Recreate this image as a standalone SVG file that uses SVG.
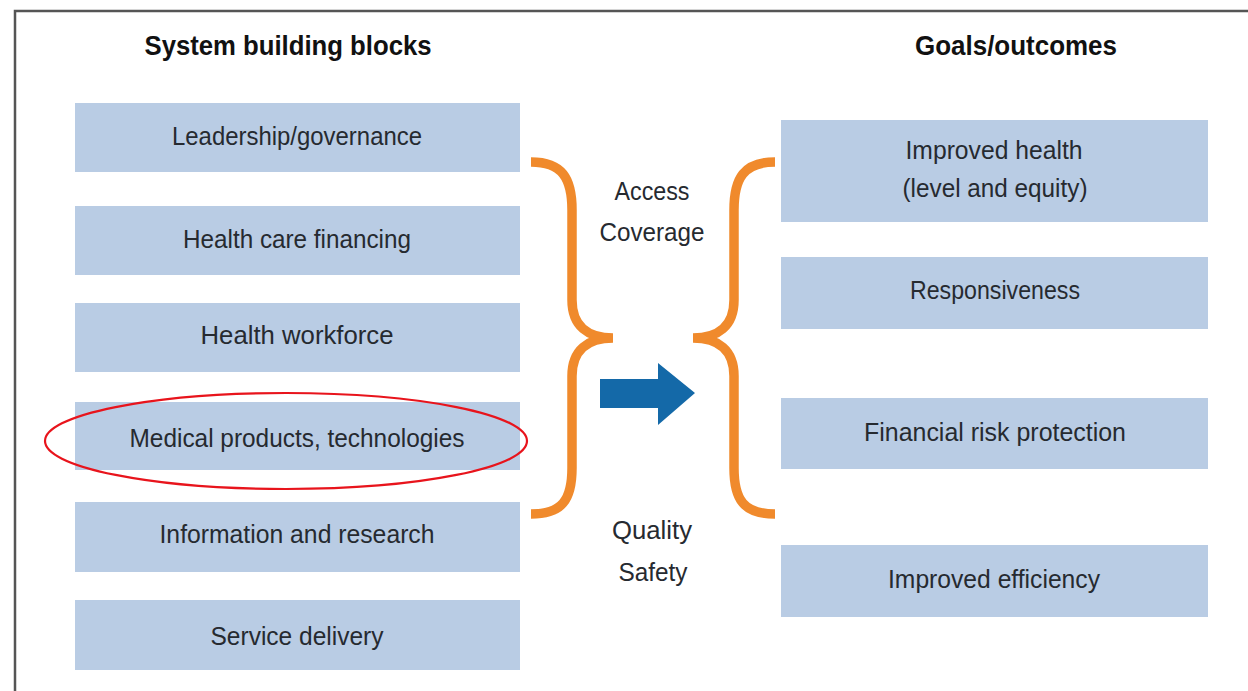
<svg xmlns="http://www.w3.org/2000/svg" width="1248" height="691" viewBox="0 0 1248 691">
  <style>
    .box { fill: #b9cce4; }
    .lbl { font-family: "Liberation Sans", Arial, sans-serif; font-size: 26px; fill: #262a30; text-anchor: middle; }
    .mid { font-family: "Liberation Sans", Arial, sans-serif; font-size: 26px; fill: #262a30; text-anchor: middle; }
    .title { font-family: "Liberation Sans", Arial, sans-serif; font-size: 27px; font-weight: bold; fill: #111; text-anchor: middle; }
    .brace { fill: none; stroke: #f08a2c; stroke-width: 9.5; stroke-linecap: butt; }
  </style>
  <rect x="0" y="0" width="1248" height="691" fill="#ffffff"/>
  <!-- frame -->
  <path d="M15,691 L15,11 L1248,11" fill="none" stroke="#555" stroke-width="2.5"/>

  <!-- titles -->
  <text class="title" x="288" y="55" textLength="287" lengthAdjust="spacingAndGlyphs">System building blocks</text>
  <text class="title" x="1016" y="55" textLength="202" lengthAdjust="spacingAndGlyphs">Goals/outcomes</text>

  <!-- left column nodes -->
  <g id="leadership">
    <rect class="box" x="75" y="103" width="445" height="69"/>
    <text class="lbl" x="297" y="145" textLength="250" lengthAdjust="spacingAndGlyphs">Leadership/governance</text>
  </g>
  <g id="financing">
    <rect class="box" x="75" y="206" width="445" height="69"/>
    <text class="lbl" x="297" y="248" textLength="228" lengthAdjust="spacingAndGlyphs">Health care financing</text>
  </g>
  <g id="workforce">
    <rect class="box" x="75" y="303" width="445" height="69"/>
    <text class="lbl" x="297" y="344" textLength="193" lengthAdjust="spacingAndGlyphs">Health workforce</text>
  </g>
  <g id="medical">
    <rect class="box" x="75" y="402" width="445" height="68"/>
    <text class="lbl" x="297" y="447" textLength="335" lengthAdjust="spacingAndGlyphs">Medical products, technologies</text>
    <ellipse cx="286" cy="441" rx="241" ry="48" fill="none" stroke="#e8141c" stroke-width="2.2"/>
  </g>
  <g id="information">
    <rect class="box" x="75" y="502" width="445" height="70"/>
    <text class="lbl" x="297" y="543" textLength="275" lengthAdjust="spacingAndGlyphs">Information and research</text>
  </g>
  <g id="service">
    <rect class="box" x="75" y="600" width="445" height="70"/>
    <text class="lbl" x="297" y="645" textLength="173" lengthAdjust="spacingAndGlyphs">Service delivery</text>
  </g>

  <!-- right column nodes -->
  <g id="health">
    <rect class="box" x="781" y="120" width="427" height="102"/>
    <text class="lbl" x="994" y="159" textLength="177" lengthAdjust="spacingAndGlyphs">Improved health</text>
    <text class="lbl" x="995" y="197" textLength="185" lengthAdjust="spacingAndGlyphs">(level and equity)</text>
  </g>
  <g id="responsiveness">
    <rect class="box" x="781" y="257" width="427" height="72"/>
    <text class="lbl" x="995" y="299" textLength="170" lengthAdjust="spacingAndGlyphs">Responsiveness</text>
  </g>
  <g id="financial">
    <rect class="box" x="781" y="398" width="427" height="71"/>
    <text class="lbl" x="995" y="441" textLength="262" lengthAdjust="spacingAndGlyphs">Financial risk protection</text>
  </g>
  <g id="efficiency">
    <rect class="box" x="781" y="545" width="427" height="72"/>
    <text class="lbl" x="994" y="588" textLength="212" lengthAdjust="spacingAndGlyphs">Improved efficiency</text>
  </g>

  <!-- middle labels -->
  <g id="access">
    <text class="mid" x="652" y="200" textLength="75" lengthAdjust="spacingAndGlyphs">Access</text>
    <text class="mid" x="652" y="241" textLength="105" lengthAdjust="spacingAndGlyphs">Coverage</text>
  </g>
  <g id="quality">
    <text class="mid" x="652" y="539" textLength="80" lengthAdjust="spacingAndGlyphs">Quality</text>
    <text class="mid" x="653" y="581" textLength="69" lengthAdjust="spacingAndGlyphs">Safety</text>
  </g>

  <!-- connectors -->
  <g id="connectors">
    <path class="brace" d="M531,162 C562,162 572,178 572,210 L572,300 C572,326 588,338 613,338 C588,338 572,350 572,376 L572,468 C572,500 562,514 531,514"/>
    <path class="brace" d="M775,162 C744,162 734,178 734,210 L734,300 C734,326 718,338 693,338 C718,338 734,350 734,376 L734,468 C734,500 744,514 775,514"/>
    <path d="M600,379 L658,379 L658,363 L695,393 L658,425 L658,408 L600,408 Z" fill="#1469a8"/>
  </g>
</svg>
